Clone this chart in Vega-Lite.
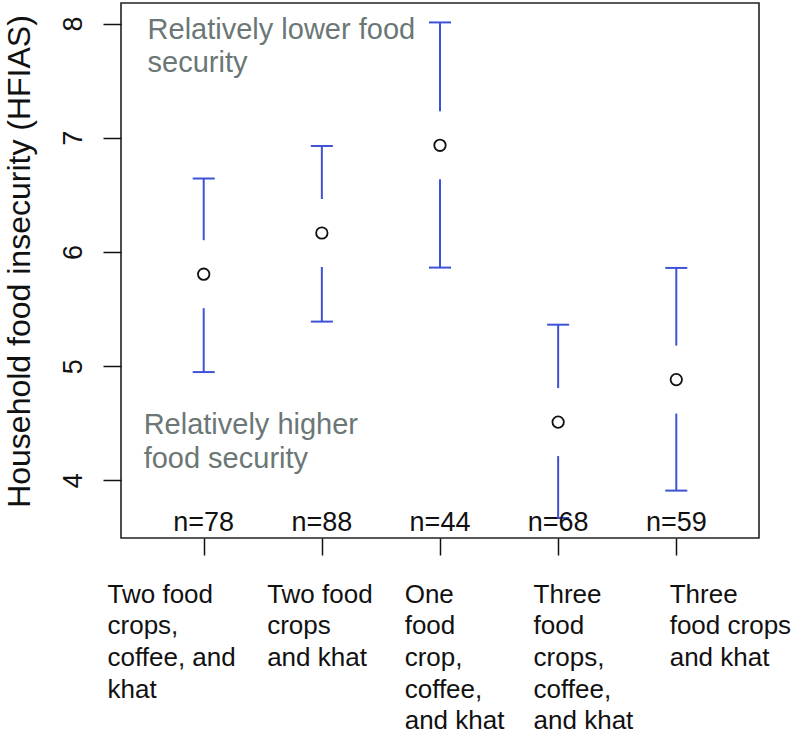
{
  "$schema": "https://vega.github.io/schema/vega-lite/v6.json",
  "width": 638,
  "height": 535,
  "autosize": {"type": "none"},
  "padding": {"left": 121, "top": 3, "right": 40, "bottom": 200},
  "background": "white",
  "datasets": {
    "groups": [
      {"group": 1, "mean": 5.805, "low": 4.948, "high": 6.643, "n": "n=78"},
      {"group": 2, "mean": 6.166, "low": 5.39, "high": 6.928, "n": "n=88"},
      {"group": 3, "mean": 6.934, "low": 5.863, "high": 8.01, "n": "n=44"},
      {"group": 4, "mean": 4.51, "low": 3.67, "high": 5.363, "n": "n=68"},
      {"group": 5, "mean": 4.882, "low": 3.91, "high": 5.86, "n": "n=59"}
    ],
    "xlabels": [
      {"at": 0.186, "label": "Two food\ncrops,\ncoffee, and\nkhat"},
      {"at": 1.537, "label": "Two food\ncrops\nand khat"},
      {"at": 2.701, "label": "One\nfood\ncrop,\ncoffee,\nand khat"},
      {"at": 3.792, "label": "Three\nfood\ncrops,\ncoffee,\nand khat"},
      {"at": 4.944, "label": "Three\nfood crops\nand khat"}
    ],
    "notes": [
      {"at": 0.525, "level": 7.869, "note": "Relatively lower food\nsecurity"},
      {"at": 0.4915, "level": 4.403, "note": "Relatively higher\nfood security"}
    ]
  },
  "layer": [
    {
      "data": {"name": "groups"},
      "mark": {"type": "rule", "color": "#3d52d5", "strokeWidth": 2},
      "encoding": {
        "x": {
          "field": "group",
          "type": "quantitative",
          "scale": {"domain": [0.3, 5.7], "nice": false, "zero": false},
          "axis": {
            "values": [1, 2, 3, 4, 5],
            "labels": false,
            "domain": false,
            "grid": false,
            "ticks": true,
            "tickSize": 17,
            "tickWidth": 1.5,
            "tickColor": "#111",
            "title": null
          }
        },
        "y": {
          "field": "low",
          "type": "quantitative",
          "scale": {"domain": [3.495, 8.18], "nice": false, "zero": false},
          "axis": {
            "values": [4, 5, 6, 7, 8],
            "format": "d",
            "domain": false,
            "grid": false,
            "tickSize": 18,
            "tickWidth": 1.5,
            "tickColor": "#111",
            "labelAngle": -90,
            "labelAlign": "center",
            "labelBaseline": "alphabetic",
            "labelPadding": 22,
            "labelFontSize": 27,
            "labelColor": "#111",
            "title": "Household food insecurity (HFIAS)",
            "titleFontSize": 32,
            "titleFontWeight": "normal",
            "titleColor": "#111",
            "titleAngle": -90,
            "titleAlign": "center",
            "titleBaseline": "alphabetic",
            "titleX": -92,
            "titleY": 258
          }
        },
        "y2": {"field": "high"}
      }
    },
    {
      "data": {"name": "groups"},
      "mark": {"type": "tick", "orient": "horizontal", "color": "#3d52d5", "size": 22, "thickness": 2, "opacity": 1},
      "encoding": {
        "x": {"field": "group", "type": "quantitative"},
        "y": {"field": "high", "type": "quantitative"}
      }
    },
    {
      "data": {"name": "groups"},
      "mark": {"type": "tick", "orient": "horizontal", "color": "#3d52d5", "size": 22, "thickness": 2, "opacity": 1},
      "encoding": {
        "x": {"field": "group", "type": "quantitative"},
        "y": {"field": "low", "type": "quantitative"}
      }
    },
    {
      "data": {"name": "groups"},
      "mark": {"type": "tick", "orient": "vertical", "color": "white", "size": 68, "thickness": 6, "opacity": 1},
      "encoding": {
        "x": {"field": "group", "type": "quantitative"},
        "y": {"field": "mean", "type": "quantitative"}
      }
    },
    {
      "data": {"name": "groups"},
      "mark": {"type": "point", "shape": "circle", "filled": false, "stroke": "#111", "strokeWidth": 1.8, "size": 130, "opacity": 1},
      "encoding": {
        "x": {"field": "group", "type": "quantitative"},
        "y": {"field": "mean", "type": "quantitative"}
      }
    },
    {
      "data": {"name": "groups"},
      "mark": {"type": "text", "align": "center", "baseline": "alphabetic", "fontSize": 27, "color": "#111"},
      "encoding": {
        "x": {"field": "group", "type": "quantitative"},
        "y": {"datum": 3.556, "type": "quantitative"},
        "text": {"field": "n"}
      }
    },
    {
      "data": {"name": "notes"},
      "mark": {"type": "text", "align": "left", "baseline": "alphabetic", "fontSize": 29, "color": "#6b7776", "lineBreak": "\n", "lineHeight": 33.5},
      "encoding": {
        "x": {"field": "at", "type": "quantitative"},
        "y": {"field": "level", "type": "quantitative"},
        "text": {"field": "note"}
      }
    },
    {
      "data": {"name": "xlabels"},
      "mark": {"type": "text", "align": "left", "baseline": "alphabetic", "fontSize": 26, "color": "#111", "lineBreak": "\n", "lineHeight": 31.7},
      "encoding": {
        "x": {"field": "at", "type": "quantitative"},
        "y": {"datum": 2.93, "type": "quantitative"},
        "text": {"field": "label"}
      }
    }
  ],
  "config": {
    "font": "Liberation Sans",
    "view": {"stroke": "#222", "strokeWidth": 1.6}
  }
}
